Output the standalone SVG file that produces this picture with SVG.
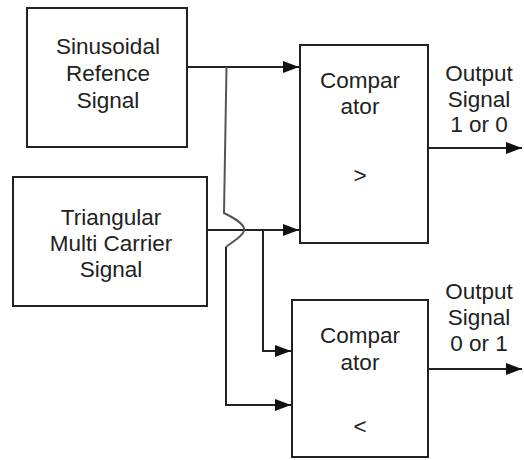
<svg xmlns="http://www.w3.org/2000/svg" width="524" height="460" viewBox="0 0 524 460">
  <style>
    .box { fill: #ffffff; stroke: #222222; stroke-width: 2; }
    .wire { fill: none; stroke: #222222; stroke-width: 2; }
    .hop { fill: none; stroke: #555555; stroke-width: 2; }
    .lbl { font-family: "Liberation Sans", Arial, sans-serif; font-size: 22.5px; fill: #222222; text-anchor: middle; }
  </style>
  <defs>
    <marker id="arrow" markerWidth="16" markerHeight="12" refX="16" refY="6" orient="auto" markerUnits="userSpaceOnUse">
      <path d="M0,0 L16,6 L0,12 Z" fill="#111111"/>
    </marker>
  </defs>
  <rect width="524" height="460" fill="#ffffff"/>

  <g id="connectors">
    <!-- sinusoidal reference to comparator 1 -->
    <path class="wire" d="M187,67 H299" marker-end="url(#arrow)"/>
    <!-- triangular carrier to comparator 1 -->
    <path class="wire" d="M207,230 H299" marker-end="url(#arrow)"/>
    <!-- carrier branch to comparator 2 -->
    <path class="wire" d="M263,230 V351 H291" marker-end="url(#arrow)"/>
    <!-- reference branch hopping over the carrier line -->
    <path class="hop" d="M226.5,67 L224,213 C236,219 246,225 244,231 C242,237 232,242 226,247"/>
    <path class="wire" d="M226,247 V405 H291" marker-end="url(#arrow)"/>
    <!-- outputs -->
    <path class="wire" d="M428,148 H522" marker-end="url(#arrow)"/>
    <path class="wire" d="M428,369 H522" marker-end="url(#arrow)"/>
  </g>

  <g id="sine-ref">
    <rect class="box" x="27" y="8" width="160" height="139"/>
    <text class="lbl" x="108" y="54">Sinusoidal</text>
    <text class="lbl" x="108" y="81">Refence</text>
    <text class="lbl" x="108" y="108">Signal</text>
  </g>

  <g id="tri-carrier">
    <rect class="box" x="13" y="177" width="194" height="129"/>
    <text class="lbl" x="111" y="225">Triangular</text>
    <text class="lbl" x="111" y="251">Multi Carrier</text>
    <text class="lbl" x="111" y="277">Signal</text>
  </g>

  <g id="comparator-1">
    <rect class="box" x="300" y="45" width="128" height="198"/>
    <text class="lbl" x="360" y="88">Compar</text>
    <text class="lbl" x="360" y="114">ator</text>
    <text class="lbl" x="360" y="183">&gt;</text>
  </g>

  <g id="comparator-2">
    <rect class="box" x="292" y="300" width="136" height="157"/>
    <text class="lbl" x="360" y="343">Compar</text>
    <text class="lbl" x="360" y="370">ator</text>
    <text class="lbl" x="360" y="434">&lt;</text>
  </g>

  <g id="output-1">
    <text class="lbl" x="479" y="81">Output</text>
    <text class="lbl" x="479" y="107">Signal</text>
    <text class="lbl" x="479" y="132">1 or 0</text>
  </g>

  <g id="output-2">
    <text class="lbl" x="479" y="299">Output</text>
    <text class="lbl" x="479" y="325">Signal</text>
    <text class="lbl" x="479" y="351">0 or 1</text>
  </g>
</svg>
